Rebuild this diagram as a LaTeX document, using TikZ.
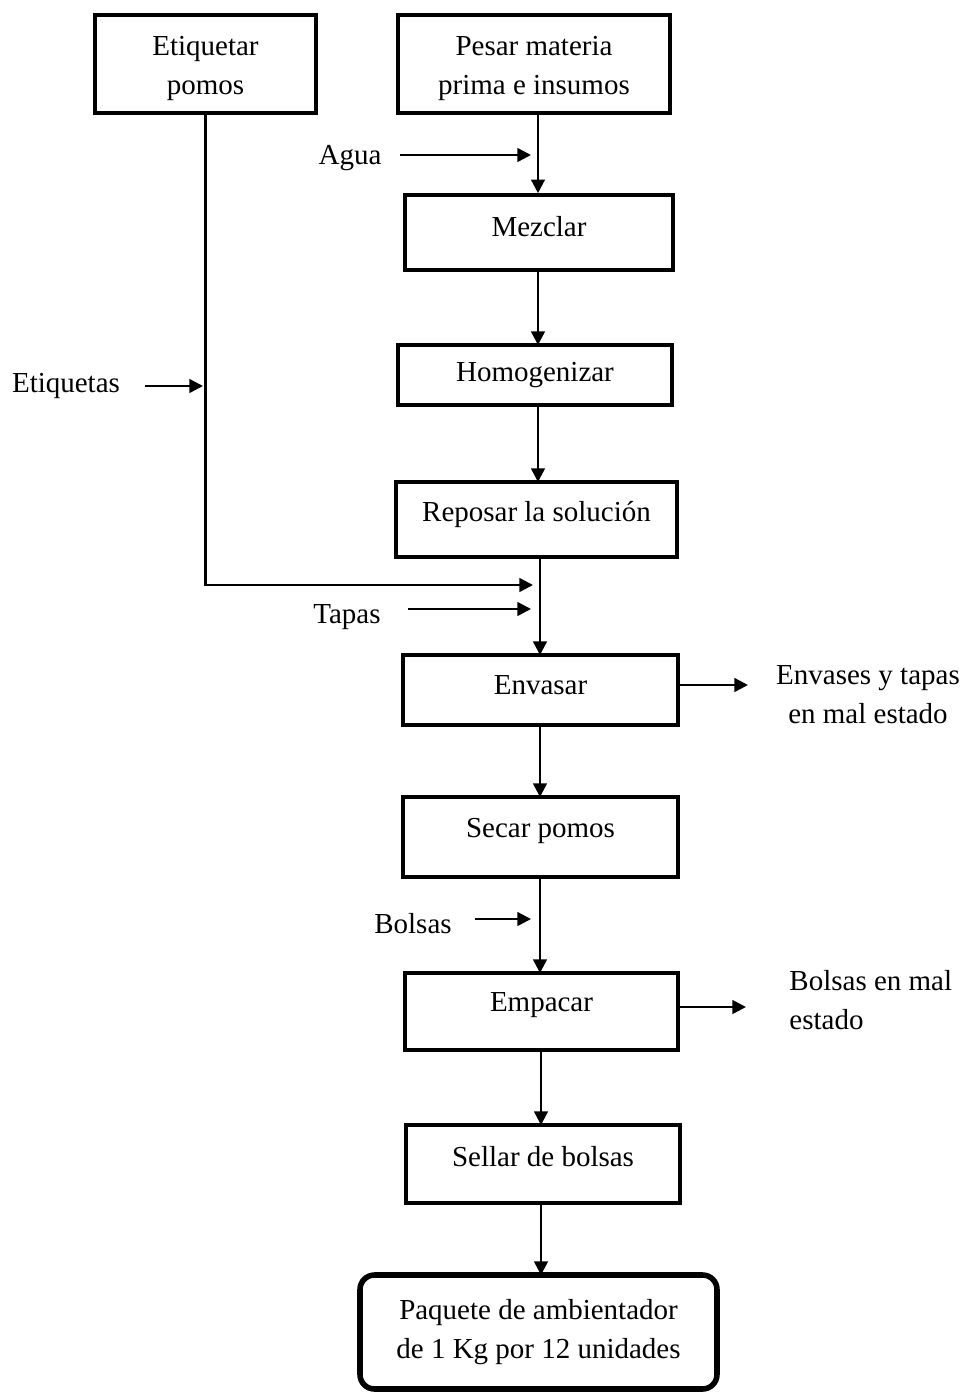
\documentclass[tikz,border=0pt]{standalone}
\usepackage{fontspec}
\setmainfont{Liberation Serif}
\usetikzlibrary{arrows.meta}
\begin{document}
\begin{tikzpicture}[x=0.414pt,y=-0.414pt,
  every node/.style={font=\fontsize{12}{16.1}\selectfont},
  stepbox/.style={draw,line width=1.5pt,rectangle,inner sep=0pt,align=center},
  endbox/.style={draw,line width=2.3pt,rectangle,rounded corners=6pt,inner sep=0pt,align=center},
  flow/.style={line width=1pt,-{Triangle[length=5.6pt,width=5.6pt]}},
  lbl/.style={inner sep=0pt,align=center}]
\useasboundingbox (0,0) rectangle (964,1392);

% process boxes
\node[stepbox,minimum width=221*0.414pt,minimum height=98*0.414pt,text height=28pt] (etq) at (205.5,64) {Etiquetar\\pomos};
\node[stepbox,minimum width=272*0.414pt,minimum height=98*0.414pt,text height=28pt] (pesar) at (534,64) {Pesar materia\\prima e insumos};
\node[stepbox,minimum width=268*0.414pt,minimum height=75*0.414pt,text depth=5pt] (mez) at (539,232.5) {Mezclar};
\node[stepbox,minimum width=274*0.414pt,minimum height=60*0.414pt] (hom) at (535,375) {Homogenizar};
\node[stepbox,minimum width=281*0.414pt,minimum height=75*0.414pt,text depth=7pt] (rep) at (536.5,519.5) {Reposar la solución};
\node[stepbox,minimum width=275*0.414pt,minimum height=70*0.414pt,text depth=4.5pt] (env) at (540.5,690) {Envasar};
\node[stepbox,minimum width=275*0.414pt,minimum height=80*0.414pt,text depth=7.5pt] (sec) at (540.5,837) {Secar pomos};
\node[stepbox,minimum width=273*0.414pt,minimum height=77*0.414pt,text depth=8pt] (emp) at (541.5,1011.5) {Empacar};
\node[stepbox,minimum width=274*0.414pt,minimum height=78*0.414pt,text depth=6pt] (sel) at (543,1164) {Sellar de bolsas};
\node[endbox,minimum width=357*0.414pt,minimum height=114*0.414pt] (fin) at (538.5,1332) {Paquete de ambientador\\de 1 Kg por 12 unidades};

% side labels
\node[lbl] (agua) at (350,158) {Agua};
\node[lbl] (etqs) at (66,386) {Etiquetas};
\node[lbl] (tapas) at (347,617) {Tapas};
\node[lbl] (bols) at (413,924) {Bolsas};
\node[lbl] (out1) at (868,695) {Envases y tapas\\en mal estado};
\node[lbl,anchor=west,align=left] (out2) at (789,1000) {Bolsas en mal\\estado};

% main flow
\coordinate (p1) at (538,113);
\draw[flow] (p1) -- (p1 |- mez.north);
\draw[flow] (538,270) -- (538,345);
\draw[flow] (538,405) -- (538,482);
\draw[flow] (540,557) -- (540,655);
\draw[flow] (540,725) -- (540,797);
\draw[flow] (540,877) -- (540,973);
\draw[flow] (541,1050) -- (541,1125);
\draw[flow] (541,1203) -- (541,1275);

% inputs
\coordinate (a1) at (400,155);
\coordinate (a2) at (531,155);
\draw[flow] (a1) -- (a2);
\coordinate (e1) at (145,386);
\coordinate (e2) at (203,386);
\draw[flow] (e1) -- (e2);
\coordinate (k2) at (533,585);
\draw[flow] (etq.south) |- (k2);
\coordinate (t1) at (408,609);
\coordinate (t2) at (531,609);
\draw[flow] (t1) -- (t2);
\coordinate (b1) at (475,919);
\coordinate (b2) at (531,919);
\draw[flow] (b1) -- (b2);

% outputs
\coordinate (o1) at (748,685);
\draw[flow] (env.east |- o1) -- (o1);
\coordinate (o2) at (746,1007);
\draw[flow] (emp.east |- o2) -- (o2);
\end{tikzpicture}
\end{document}
